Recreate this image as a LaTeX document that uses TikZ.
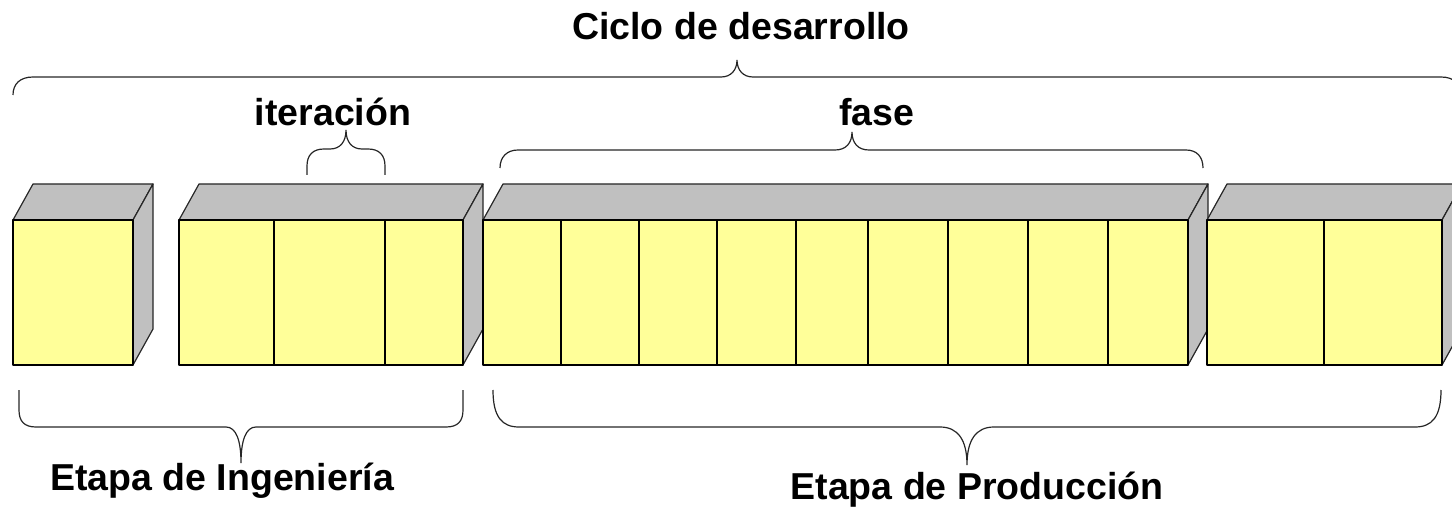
\documentclass[tikz,border=0pt]{standalone}
\usepackage{fontspec}
\setmainfont{Liberation Sans}
\definecolor{frontyellow}{HTML}{FFFF99}
\definecolor{sidegray}{HTML}{C0C0C0}
\begin{document}
\begin{tikzpicture}[x=1pt,y=-1pt,
  frontface/.style={fill=frontyellow, draw=black, line width=1.2pt, line join=round},
  shadeface/.style={fill=sidegray, draw=black!85, line width=1.2pt, line join=round},
  divider/.style={draw=black, line width=1.1pt},
  bracepath/.style={draw=black!85, line width=1.2pt},
  lbl/.style={font=\fontsize{37.5}{45}\selectfont\bfseries, anchor=base, inner sep=0pt}]
\useasboundingbox (0,0) rectangle (1452,508);

% blocks
\foreach \l/\r in {13/133, 179/463, 483/1188, 1207/1442} {
  \filldraw[shadeface] (\l,220) -- (\l+20,184) -- (\r+20,184) -- (\r,220) -- cycle;
  \filldraw[shadeface] (\r,220) -- (\r+20,184) -- (\r+20,329) -- (\r,365) -- cycle;
  \filldraw[frontface] (\l,220) rectangle (\r,365);
}
\foreach \x in {274,385,561,639,717,796,868,948,1028,1108,1324}
  \draw[divider] (\x,220) -- (\x,365);

% labels
\node[lbl] (ciclo) at (741,40) {Ciclo de desarrollo};
\node[lbl] (iter) at (333,126) {iteración};
\node[lbl] (fase) at (877,126) {fase};
\node[lbl] (ing) at (222,490) {Etapa de Ingeniería};
\node[lbl] (prod) at (977,499) {Etapa de Producción};

% top brace (Ciclo de desarrollo)
\draw[bracepath] (13,95) .. controls (13,84) and (20,77) .. (33,77) -- (721,77)
  .. controls (731,77) and (737,70) .. (737,60)
  .. controls (737,70) and (743,77) .. (753,77) -- (1441,77)
  .. controls (1454,77) and (1461,84) .. (1461,95);

% iteracion brace
\draw[bracepath] (307,175) -- (307,166) .. controls (307,155) and (313,149) .. (324,149) -- (330,149)
  .. controls (340,149) and (346,142) .. (346,130)
  .. controls (346,142) and (352,149) .. (362,149) -- (368,149)
  .. controls (379,149) and (385,155) .. (385,166) -- (385,175);

% fase brace
\draw[bracepath] (500,168) .. controls (500,157) and (507,150) .. (518,150) -- (835,150)
  .. controls (846,150) and (852,143) .. (852,132)
  .. controls (852,143) and (858,150) .. (869,150) -- (1186,150)
  .. controls (1197,150) and (1203,157) .. (1203,168);

% Etapa de Ingenieria brace
\draw[bracepath] (19,390) -- (19,410) .. controls (19,421) and (24,427) .. (36,427) -- (226,427)
  .. controls (236,427) and (241,440) .. (241,463)
  .. controls (241,440) and (246,427) .. (256,427) -- (446,427)
  .. controls (458,427) and (463,421) .. (463,410) -- (463,390);

% Etapa de Produccion brace
\draw[bracepath] (493,390) .. controls (493,417) and (502,427) .. (519,427) -- (940,427)
  .. controls (958,427) and (967,440) .. (967,465)
  .. controls (967,440) and (976,427) .. (994,427) -- (1415,427)
  .. controls (1432,427) and (1441,417) .. (1441,390);
\end{tikzpicture}
\end{document}
